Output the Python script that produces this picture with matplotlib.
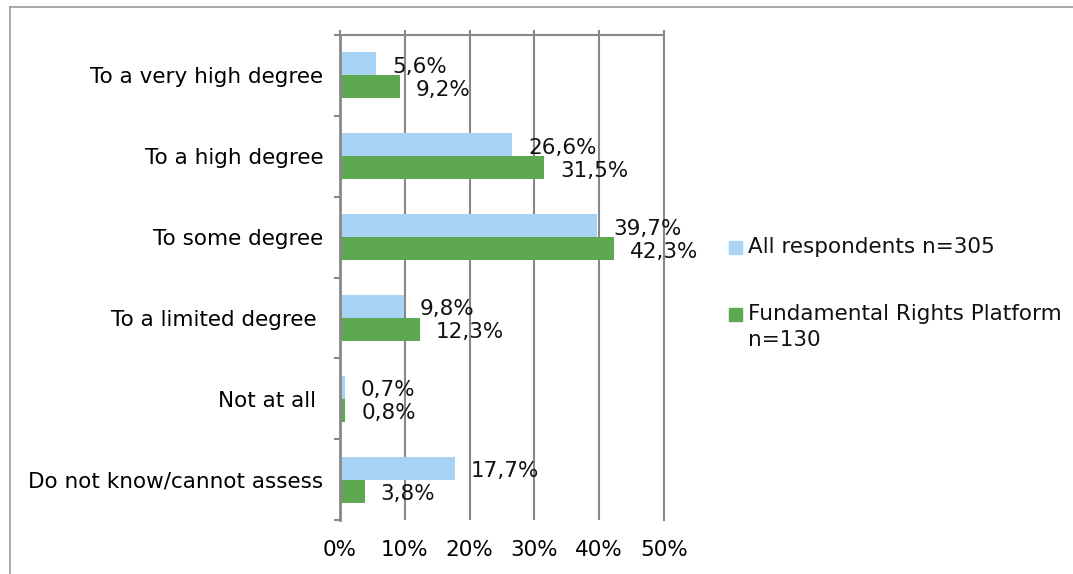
import matplotlib
matplotlib.use("Agg")
import matplotlib.pyplot as plt
from matplotlib.lines import Line2D
from matplotlib.patches import Rectangle

categories = ["To a very high degree", "To a high degree", "To some degree",
              "To a limited degree ", "Not at all ", "Do not know/cannot assess"]
all_resp = [5.6, 26.6, 39.7, 9.8, 0.7, 17.7]
frp = [9.2, 31.5, 42.3, 12.3, 0.8, 3.8]
series_names = ["All respondents n=305", "Fundamental Rights Platform\nn=130"]
xticks = [0, 10, 20, 30, 40, 50]

BLUE = "#A8D3F4"
GREEN = "#5DA851"
GRID = "#888888"
FS = 15.5

W, H = 1073, 574
fig = plt.figure(figsize=(W / 100, H / 100), dpi=100)
ax = fig.add_axes([340 / W, 1 - 520 / H, 324 / W, 485 / H])

ys = list(range(len(categories)))
bh = 0.284
ax.barh([y - bh / 2 for y in ys], all_resp, height=bh, color=BLUE, zorder=3)
ax.barh([y + bh / 2 for y in ys], frp, height=bh, color=GREEN, zorder=3)

for y, v in zip(ys, all_resp):
    ax.annotate(f"{v:.1f}%".replace(".", ","), (v, y - bh / 2), xytext=(16, -3),
                textcoords="offset pixels", va="center", ha="left", fontsize=FS, color="#111111")
for y, v in zip(ys, frp):
    ax.annotate(f"{v:.1f}%".replace(".", ","), (v, y + bh / 2), xytext=(16, -3),
                textcoords="offset pixels", va="center", ha="left", fontsize=FS, color="#111111")

ax.set_xlim(0, 50)
ax.set_ylim(len(categories) - 0.5, -0.5)
ax.set_xticks(xticks)
ax.set_xticklabels([f"{t}%" for t in xticks], fontsize=FS)
ax.set_yticks(ys)
ax.set_yticklabels(categories, fontsize=FS)
ax.set_yticks([y - 0.5 for y in ys] + [len(ys) - 0.5], minor=True)

ax.tick_params(axis="y", which="major", length=0, pad=12)
ax.tick_params(axis="y", which="minor", length=6 * 0.72, width=1.5, color=GRID, direction="out")
ax.tick_params(axis="x", which="major", top=True, bottom=False, labelbottom=True,
               length=5 * 0.72, width=1.5, color=GRID, direction="out", pad=11)

ax.grid(axis="x", color=GRID, linewidth=1.5, zorder=1)
ax.set_axisbelow(True)
for s in ["left", "top", "right"]:
    ax.spines[s].set_color(GRID)
    ax.spines[s].set_linewidth(1.5)
ax.spines["left"].set_linewidth(2)
ax.spines["left"].set_zorder(4)
ax.spines["bottom"].set_visible(False)

# legend
fig.patches.append(Rectangle((729 / W, 1 - 254 / H), 13 / W, 13 / H, transform=fig.transFigure,
                             color=BLUE))
fig.text(748 / W, 1 - 247 / H, series_names[0], fontsize=FS, va="center", ha="left", color="#111111")
fig.patches.append(Rectangle((729 / W, 1 - 321 / H), 13 / W, 13 / H, transform=fig.transFigure,
                             color=GREEN))
l1, l2 = series_names[1].split("\n")
fig.text(748 / W, 1 - 314 / H, l1, fontsize=FS, va="center", ha="left", color="#111111")
fig.text(748 / W, 1 - 340 / H, l2, fontsize=FS, va="center", ha="left", color="#111111")

# outer frame
fig.add_artist(Line2D([9.5 / W, 9.5 / W], [0, 1 - 7 / H], transform=fig.transFigure,
                      color="#999999", linewidth=1.2))
fig.add_artist(Line2D([9.5 / W, 1], [1 - 7 / H, 1 - 7 / H], transform=fig.transFigure,
                      color="#999999", linewidth=1.2))

fig.savefig("out.png", dpi=100)
